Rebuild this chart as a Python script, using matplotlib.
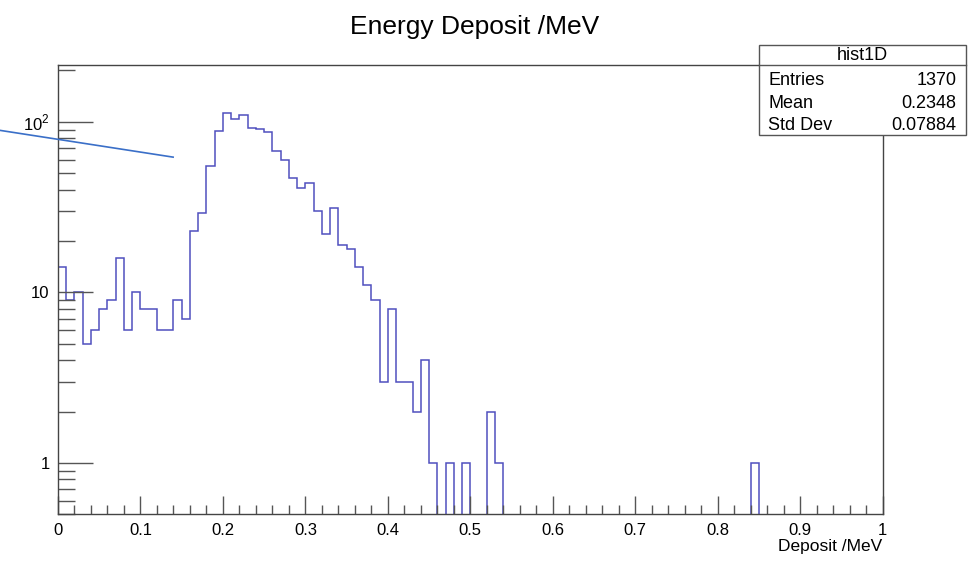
import matplotlib.pyplot as plt
import matplotlib.ticker as mticker
import numpy as np

plt.rcParams['font.family'] = ['Liberation Sans', 'DejaVu Sans']
plt.rcParams['mathtext.fontset'] = 'custom'
plt.rcParams['mathtext.rm'] = 'Liberation Sans'

# 100 bins from 0 to 1 MeV
bin_edges = np.linspace(0, 1, 101)
counts = np.zeros(100)
counts[:45] = [14, 9, 10, 5, 6, 8, 9, 16, 6, 10,
               8, 8, 6, 6, 9, 7, 23, 29, 55, 88,
               113, 104, 110, 92, 91, 87, 67, 60, 47, 41,
               44, 30, 22, 31, 19, 18, 14, 11, 9, 3,
               8, 3, 3, 2, 4]
counts[45] = 1
counts[47] = 1
counts[49] = 1
counts[52] = 2
counts[53] = 1
counts[84] = 1

stats_name = "hist1D"
stats_rows = [("Entries", "1370"), ("Mean", "0.2348"), ("Std Dev", "0.07884")]

# stray line on the canvas (data coords)
line_x = [-0.0704, 0.1396]
line_y = [89, 62]

fig = plt.figure(figsize=(9.73, 5.62), dpi=100)
ax = fig.add_axes([58/973, 1-514.3/562, (882.7-58)/973, (514.3-65)/562])

ymin = 0.5
plot_counts = np.where(counts > 0, counts, ymin * 0.5)
ax.stairs(plot_counts, bin_edges, color="#4f4fbf", lw=1.1, baseline=ymin * 0.5)

ax.set_yscale("log")
ax.set_xlim(0, 1)
ax.set_ylim(ymin, 215)

ax.plot(line_x, line_y, color="#3a6fc8", lw=1.2, clip_on=False, zorder=5)

ax.xaxis.set_major_locator(mticker.MultipleLocator(0.1))
ax.xaxis.set_minor_locator(mticker.MultipleLocator(0.02))
ax.xaxis.set_major_formatter(mticker.FuncFormatter(lambda v, p: "%g" % round(v, 2)))
ax.yaxis.set_major_locator(mticker.FixedLocator([1, 10, 100]))
ax.yaxis.set_minor_locator(mticker.LogLocator(base=10, subs=np.arange(2, 10)))
ax.yaxis.set_minor_formatter(mticker.NullFormatter())
ax.yaxis.set_major_formatter(mticker.FuncFormatter(
    lambda v, p: {1: "1", 10: "10", 100: "10$^{2}$"}.get(int(round(v)), "")))

ax.tick_params(axis="x", which="major", direction="in", length=13, width=1,
               color="#555555", labelsize=12, pad=6)
ax.tick_params(axis="x", which="minor", direction="in", length=6.5, width=1,
               color="#555555")
ax.tick_params(axis="y", which="major", direction="in", length=25, width=1,
               color="#555555", labelsize=12, pad=6)
ax.tick_params(axis="y", which="minor", direction="in", length=12.5, width=1,
               color="#555555")
for s in ax.spines.values():
    s.set_color("#444444")
    s.set_linewidth(1)

ax.set_xlabel("Deposit /MeV", fontsize=12.5, loc="right", labelpad=1)
fig.text(475/973, 1-27/562, "Energy Deposit /MeV", fontsize=19,
         ha="center", va="center")

# stats box
bx0, bx1 = 759.3/973, 965.7/973
by0, by1 = 1-135.3/562, 1-45/562
box = plt.Rectangle((bx0, by0), bx1-bx0, by1-by0, transform=fig.transFigure,
                    facecolor="white", edgecolor="#555555", lw=1, zorder=10)
fig.add_artist(box)
sep_y = 1-64.7/562
fig.add_artist(plt.Line2D([bx0, bx1], [sep_y, sep_y], transform=fig.transFigure,
                          color="#555555", lw=1, zorder=11))
fig.text((bx0+bx1)/2, 1-55/562, stats_name, fontsize=13, ha="center",
         va="center", zorder=12)
row_y = [80.7, 103.3, 125.7]
for (k, v), yy in zip(stats_rows, row_y):
    fig.text(bx0 + 9/973, 1-yy/562, k, fontsize=13, ha="left", va="center", zorder=12)
    fig.text(bx1 - 9/973, 1-yy/562, v, fontsize=13, ha="right", va="center", zorder=12)

plt.savefig("out.png", dpi=100)
